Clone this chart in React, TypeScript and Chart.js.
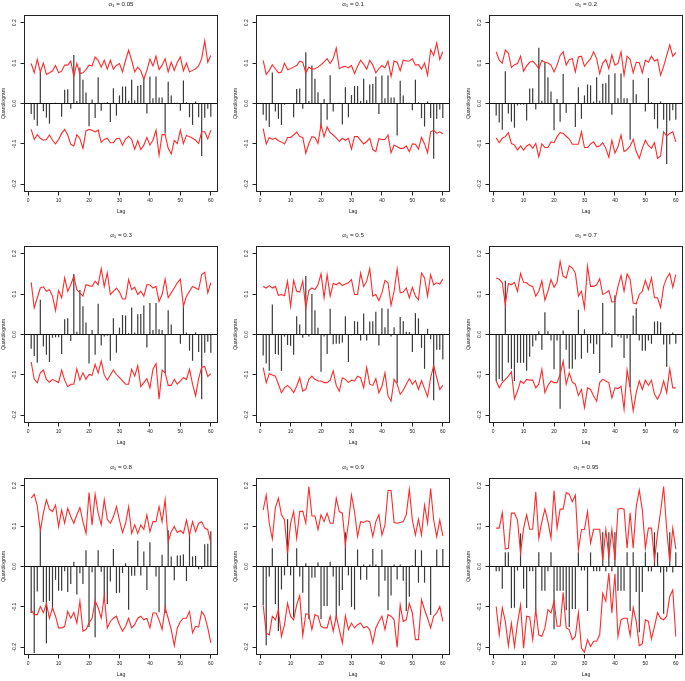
import React, { useEffect, useRef } from "react";
import { Chart, registerables } from "chart.js";

Chart.register(...registerables);

// ---------- categories / ticks ----------
const LAGS = [
  1, 2, 3, 4, 5, 6, 7, 8, 9, 10, 11, 12, 13, 14, 15, 16, 17, 18, 19, 20,
  21, 22, 23, 24, 25, 26, 27, 28, 29, 30, 31, 32, 33, 34, 35, 36, 37, 38, 39, 40,
  41, 42, 43, 44, 45, 46, 47, 48, 49, 50, 51, 52, 53, 54, 55, 56, 57, 58, 59, 60,
];
const X_TICKS = [0, 10, 20, 30, 40, 50, 60];
const Y_TICKS = [-0.2, -0.1, 0, 0.1, 0.2];
const ALPHAS = ["0.05", "0.1", "0.2", "0.3", "0.5", "0.7", "0.8", "0.9", "0.95"];

// ---------- alpha = 0.05 ----------
const Q005 = [-0.026,-0.04,-0.055,0.078,-0.019,-0.035,-0.05,0,0.002,0,-0.033,0.034,0.035,-0.013,0.12,0.006,0.089,0.059,0.027,-0.056,0.01,-0.036,0.065,-0.018,0.002,0.003,-0.046,0.038,-0.03,0.02,0.042,0.042,0.007,0.059,0.008,0.044,0.046,0.064,-0.025,0.067,0.013,0.067,0.015,0.015,-0.074,0.054,0.02,0.002,0.002,-0.018,0.057,0.003,-0.034,-0.053,0.005,-0.034,-0.13,-0.035,-0.013,-0.033];
const U005 = [0.099,0.076,0.109,0.078,0.1,0.072,0.076,0.081,0.094,0.076,0.08,0.095,0.095,0.105,0.067,0.099,0.074,0.076,0.084,0.095,0.093,0.115,0.107,0.09,0.107,0.085,0.107,0.085,0.094,0.099,0.078,0.107,0.132,0.107,0.078,0.09,0.081,0.06,0.082,0.11,0.093,0.117,0.084,0.095,0.111,0.078,0.102,0.082,0.102,0.115,0.081,0.1,0.078,0.082,0.086,0.093,0.111,0.155,0.102,0.119];
const L005 = [-0.064,-0.089,-0.077,-0.086,-0.091,-0.089,-0.078,-0.091,-0.1,-0.089,-0.074,-0.064,-0.078,-0.101,-0.105,-0.077,-0.087,-0.111,-0.068,-0.064,-0.066,-0.07,-0.066,-0.096,-0.089,-0.086,-0.097,-0.097,-0.087,-0.086,-0.103,-0.088,-0.081,-0.089,-0.113,-0.092,-0.114,-0.103,-0.084,-0.103,-0.091,-0.066,-0.128,-0.077,-0.077,-0.111,-0.125,-0.091,-0.099,-0.066,-0.099,-0.079,-0.082,-0.086,-0.091,-0.099,-0.07,-0.07,-0.088,-0.066];

// ---------- alpha = 0.1 ----------
const Q010 = [-0.028,-0.042,-0.058,0.077,-0.02,-0.038,-0.053,-0.003,0,0,-0.034,0.036,0.037,-0.013,0.127,0.006,0.094,0.061,0.028,-0.06,0.011,-0.04,0.07,-0.02,0,0.002,-0.052,0.04,-0.034,0.021,0.043,0.043,0.006,0.061,0.008,0.047,0.048,0.067,-0.026,0.069,0.013,0.069,0.015,0.015,-0.079,0.056,0.02,0.002,0.002,-0.017,0.059,0.003,-0.036,-0.057,0.005,-0.036,-0.137,-0.038,-0.015,-0.036];
const U010 = [0.107,0.072,0.082,0.096,0.086,0.076,0.078,0.1,0.084,0.086,0.09,0.094,0.105,0.102,0.076,0.09,0.085,0.086,0.09,0.096,0.103,0.111,0.099,0.111,0.137,0.086,0.09,0.092,0.088,0.094,0.074,0.092,0.107,0.097,0.085,0.107,0.095,0.076,0.086,0.094,0.088,0.105,0.067,0.105,0.102,0.081,0.107,0.105,0.105,0.111,0.095,0.096,0.085,0.1,0.07,0.133,0.119,0.15,0.109,0.128];
const L010 = [-0.062,-0.1,-0.084,-0.089,-0.086,-0.092,-0.095,-0.1,-0.084,-0.084,-0.078,-0.071,-0.082,-0.084,-0.123,-0.099,-0.082,-0.084,-0.099,-0.053,-0.082,-0.058,-0.072,-0.078,-0.085,-0.094,-0.086,-0.091,-0.086,-0.113,-0.082,-0.082,-0.091,-0.1,-0.094,-0.086,-0.114,-0.119,-0.087,-0.089,-0.089,-0.078,-0.122,-0.103,-0.107,-0.111,-0.111,-0.105,-0.119,-0.1,-0.101,-0.113,-0.084,-0.1,-0.122,-0.07,-0.066,-0.074,-0.07,-0.075];

// ---------- alpha = 0.2 ----------
const Q020 = [-0.03,-0.047,-0.065,0.08,-0.025,-0.045,-0.06,-0.005,-0.003,-0.003,-0.042,0.037,0.038,-0.015,0.138,0.007,0.102,0.065,0.03,-0.066,0.011,-0.045,0.073,-0.023,-0.002,0,-0.058,0.04,-0.038,0.02,0.047,0.045,0.005,0.065,0.007,0.049,0.05,0.071,-0.028,0.075,0.013,0.074,0.013,0.013,-0.09,0.059,0.023,0.002,0,-0.02,0.063,0.003,-0.039,-0.062,0.005,-0.04,-0.15,-0.042,-0.017,-0.04];
const U020 = [0.128,0.107,0.1,0.132,0.125,0.089,0.096,0.099,0.117,0.08,0.093,0.102,0.105,0.097,0.086,0.107,0.102,0.1,0.095,0.078,0.095,0.119,0.128,0.095,0.109,0.111,0.078,0.115,0.117,0.092,0.102,0.111,0.128,0.111,0.074,0.1,0.109,0.086,0.12,0.095,0.099,0.128,0.07,0.117,0.109,0.076,0.102,0.101,0.076,0.107,0.102,0.117,0.105,0.109,0.07,0.092,0.119,0.145,0.117,0.126];
const L020 = [-0.085,-0.097,-0.086,-0.082,-0.072,-0.099,-0.103,-0.115,-0.105,-0.115,-0.105,-0.101,-0.111,-0.099,-0.132,-0.1,-0.109,-0.109,-0.095,-0.097,-0.082,-0.072,-0.074,-0.081,-0.088,-0.101,-0.101,-0.101,-0.07,-0.109,-0.109,-0.1,-0.095,-0.107,-0.105,-0.097,-0.111,-0.133,-0.091,-0.123,-0.107,-0.078,-0.119,-0.114,-0.105,-0.089,-0.119,-0.136,-0.111,-0.091,-0.104,-0.111,-0.097,-0.136,-0.13,-0.07,-0.081,-0.074,-0.07,-0.095];

// ---------- alpha = 0.3 ----------
const Q030 = [-0.035,-0.053,-0.07,0.086,-0.03,-0.05,-0.068,-0.008,-0.007,-0.007,-0.048,0.038,0.04,-0.016,0.15,0.007,0.11,0.07,0.03,-0.072,0.011,-0.05,0.076,-0.027,-0.005,-0.003,-0.065,0.04,-0.045,0.017,0.048,0.047,0.003,0.067,0.005,0.05,0.051,0.072,-0.032,0.078,0.011,0.078,0.013,0.011,-0.095,0.06,0.025,0,0,-0.023,0.07,0.005,-0.04,-0.065,0.005,-0.043,-0.16,-0.045,-0.018,-0.045];
const U030 = [0.129,0.066,0.091,0.115,0.118,0.107,0.111,0.095,0.059,0.109,0.091,0.14,0.107,0.123,0.144,0.111,0.103,0.095,0.123,0.121,0.119,0.132,0.123,0.163,0.119,0.152,0.099,0.107,0.115,0.105,0.088,0.088,0.136,0.111,0.117,0.099,0.107,0.095,0.123,0.123,0.115,0.119,0.082,0.099,0.137,0.091,0.103,0.115,0.128,0.137,0.07,0.095,0.107,0.119,0.115,0.111,0.148,0.154,0.103,0.128];
const L030 = [-0.068,-0.111,-0.119,-0.095,-0.088,-0.111,-0.118,-0.111,-0.115,-0.119,-0.088,-0.113,-0.129,-0.123,-0.123,-0.085,-0.113,-0.095,-0.111,-0.099,-0.101,-0.074,-0.095,-0.066,-0.1,-0.113,-0.1,-0.088,-0.099,-0.107,-0.115,-0.123,-0.123,-0.086,-0.103,-0.077,-0.129,-0.119,-0.109,-0.132,-0.086,-0.072,-0.16,-0.088,-0.095,-0.126,-0.126,-0.111,-0.123,-0.115,-0.107,-0.111,-0.086,-0.123,-0.152,-0.109,-0.081,-0.079,-0.104,-0.097];

// ---------- alpha = 0.5 ----------
const Q050 = [-0.052,-0.072,-0.09,0.074,-0.048,-0.05,-0.09,-0.005,-0.026,-0.028,-0.05,0.045,0.025,-0.008,0.145,-0.005,0.1,0.06,0.017,-0.092,-0.005,-0.048,0.064,-0.024,-0.023,-0.023,-0.02,0.045,-0.068,-0.002,0.033,0.032,-0.015,0.052,-0.015,0.032,0.033,0.056,-0.027,0.065,0.018,0.064,-0.005,0.018,-0.12,0.043,0.033,0.007,0.006,-0.043,0.053,0.04,-0.033,-0.085,0.014,-0.012,-0.163,-0.038,-0.038,-0.062];
const U050 = [0.119,0.115,0.121,0.115,0.119,0.097,0.099,0.096,0.132,0.07,0.134,0.107,0.105,0.132,0.066,0.109,0.115,0.111,0.123,0.15,0.091,0.148,0.095,0.126,0.123,0.128,0.121,0.125,0.128,0.136,0.099,0.099,0.152,0.119,0.132,0.163,0.095,0.099,0.084,0.103,0.134,0.128,0.072,0.107,0.162,0.103,0.105,0.115,0.091,0.117,0.095,0.086,0.152,0.14,0.095,0.148,0.123,0.128,0.125,0.137];
const L050 = [-0.082,-0.119,-0.097,-0.1,-0.103,-0.123,-0.144,-0.132,-0.126,-0.133,-0.144,-0.128,-0.107,-0.14,-0.136,-0.111,-0.103,-0.111,-0.115,-0.115,-0.119,-0.119,-0.113,-0.09,-0.126,-0.14,-0.107,-0.111,-0.119,-0.113,-0.115,-0.103,-0.107,-0.132,-0.082,-0.123,-0.126,-0.109,-0.144,-0.128,-0.095,-0.152,-0.165,-0.111,-0.123,-0.148,-0.138,-0.123,-0.109,-0.123,-0.114,-0.136,-0.114,-0.134,-0.154,-0.107,-0.077,-0.107,-0.136,-0.126];

// ---------- alpha = 0.7 ----------
const Q070 = [-0.115,-0.11,-0.115,0.133,-0.07,-0.085,-0.115,-0.07,-0.07,-0.07,-0.09,-0.055,-0.03,-0.015,0.008,-0.038,0.055,0.008,-0.015,-0.086,-0.015,-0.184,0.01,-0.038,-0.085,-0.085,-0.062,0.061,-0.06,0.013,-0.045,-0.022,-0.048,-0.024,-0.095,0.078,0.005,0.003,-0.032,0.097,-0.005,-0.008,-0.058,-0.01,-0.13,0.047,0.065,-0.015,-0.04,-0.04,-0.015,-0.023,0.032,0.033,0.03,-0.025,-0.08,-0.024,0.005,-0.023];
const U070 = [0.14,0.137,0.128,0.074,0.126,0.123,0.129,0.107,0.151,0.129,0.128,0.121,0.119,0.095,0.107,0.133,0.085,0.107,0.136,0.117,0.129,0.181,0.144,0.14,0.17,0.165,0.152,0.095,0.107,0.066,0.169,0.119,0.119,0.123,0.138,0.099,0.103,0.109,0.08,0.082,0.119,0.146,0.107,0.15,0.136,0.078,0.076,0.099,0.107,0.134,0.111,0.14,0.091,0.091,0.067,0.119,0.14,0.151,0.117,0.148];
const L070 = [-0.115,-0.132,-0.119,-0.111,-0.103,-0.092,-0.159,-0.14,-0.115,-0.121,-0.111,-0.113,-0.113,-0.132,-0.123,-0.086,-0.144,-0.126,-0.115,-0.119,-0.119,-0.099,-0.066,-0.123,-0.095,-0.118,-0.123,-0.151,-0.136,-0.181,-0.132,-0.136,-0.152,-0.165,-0.119,-0.111,-0.115,-0.119,-0.157,-0.132,-0.134,-0.128,-0.185,-0.088,-0.132,-0.189,-0.144,-0.115,-0.136,-0.113,-0.126,-0.113,-0.148,-0.16,-0.144,-0.115,-0.144,-0.085,-0.132,-0.132];

// ---------- alpha = 0.8 ----------
const Q080 = [-0.115,-0.214,-0.062,0.09,-0.088,-0.19,-0.085,-0.108,-0.033,-0.06,-0.06,-0.012,-0.063,-0.043,0.012,-0.069,-0.017,-0.043,0.04,-0.15,-0.014,-0.175,0.04,-0.013,-0.085,-0.093,-0.037,0.043,-0.066,-0.065,-0.016,0.008,-0.107,-0.023,-0.023,0.064,-0.022,0.037,-0.058,0.06,0,-0.025,-0.113,0.029,-0.115,0.09,0.025,-0.034,0.027,0.027,0.03,-0.036,0.085,0.025,0.026,-0.007,-0.006,0.055,0.056,0.087];
const U080 = [0.169,0.179,0.15,0.089,0.132,0.165,0.142,0.136,0.152,0.099,0.14,0.107,0.144,0.123,0.107,0.128,0.146,0.111,0.082,0.183,0.103,0.179,0.132,0.103,0.165,0.117,0.107,0.123,0.148,0.115,0.084,0.107,0.148,0.082,0.103,0.082,0.103,0.092,0.128,0.086,0.111,0.111,0.148,0.111,0.165,0.062,0.086,0.099,0.084,0.089,0.082,0.115,0.078,0.111,0.086,0.107,0.111,0.095,0.091,0.058];
const L080 = [-0.107,-0.119,-0.119,-0.099,-0.114,-0.092,-0.128,-0.102,-0.123,-0.152,-0.152,-0.148,-0.111,-0.128,-0.114,-0.14,-0.086,-0.16,-0.156,-0.14,-0.128,-0.085,-0.102,-0.128,-0.074,-0.152,-0.136,-0.128,-0.123,-0.144,-0.16,-0.148,-0.128,-0.152,-0.144,-0.128,-0.123,-0.132,-0.128,-0.152,-0.115,-0.115,-0.132,-0.156,-0.102,-0.128,-0.156,-0.196,-0.152,-0.136,-0.128,-0.128,-0.111,-0.164,-0.148,-0.15,-0.111,-0.123,-0.152,-0.189];

// ---------- alpha = 0.9 ----------
const Q090 = [-0.095,-0.195,-0.025,0.045,-0.093,-0.16,-0.057,-0.022,0.117,-0.022,-0.125,0.045,-0.025,-0.065,0.008,-0.13,-0.028,-0.027,0.01,-0.13,-0.098,-0.098,0.012,-0.025,-0.13,-0.097,-0.058,0.085,-0.022,-0.1,-0.107,0.042,-0.033,0.005,-0.033,0.005,0.043,0.005,-0.074,0.042,-0.035,-0.108,-0.072,0.005,-0.032,0.005,-0.035,-0.11,-0.075,0.003,0.042,-0.04,0.04,-0.04,0,-0.12,0,0.042,0.002,0.043];
const U090 = [0.14,0.177,0.107,0.068,0.146,0.169,0.128,0.115,0.033,0.107,0.136,0.07,0.136,0.137,0.107,0.198,0.125,0.125,0.091,0.128,0.111,0.132,0.107,0.107,0.169,0.136,0.132,0.054,0.107,0.177,0.136,0.074,0.111,0.109,0.113,0.111,0.074,0.111,0.128,0.078,0.103,0.188,0.188,0.109,0.107,0.109,0.111,0.128,0.191,0.115,0.078,0.117,0.078,0.152,0.107,0.193,0.115,0.074,0.115,0.076];
const L090 = [-0.096,-0.165,-0.169,-0.123,-0.132,-0.107,-0.173,-0.144,-0.091,-0.123,-0.132,-0.095,-0.072,-0.171,-0.117,-0.119,-0.156,-0.119,-0.123,-0.148,-0.152,-0.152,-0.123,-0.16,-0.123,-0.156,-0.189,-0.122,-0.156,-0.14,-0.152,-0.144,-0.14,-0.152,-0.148,-0.156,-0.189,-0.152,-0.136,-0.123,-0.156,-0.119,-0.123,-0.132,-0.2,-0.095,-0.136,-0.132,-0.091,-0.115,-0.181,-0.181,-0.082,-0.107,-0.128,-0.152,-0.123,-0.115,-0.099,-0.136];

// ---------- alpha = 0.95 ----------
const Q095 = [-0.012,-0.012,-0.055,0.035,0.035,-0.103,-0.102,-0.01,0.082,-0.055,-0.103,-0.012,-0.012,-0.11,0.035,-0.06,-0.06,-0.012,0.035,-0.155,-0.06,-0.06,-0.06,-0.108,-0.15,-0.105,-0.105,0.035,-0.01,-0.01,-0.11,0.035,-0.012,-0.012,-0.012,0.085,-0.012,0.085,-0.012,0.085,-0.06,-0.06,-0.06,0.035,-0.11,0.035,-0.063,-0.163,-0.063,0.035,-0.012,-0.012,0.085,0.035,-0.015,-0.117,-0.013,0.085,-0.015,0.035];
const U095 = [0.095,0.095,0.133,0.043,0.045,0.132,0.132,0.115,0.033,0.095,0.128,0.092,0.092,0.185,0.07,0.111,0.142,0.111,0.07,0.188,0.095,0.142,0.142,0.183,0.179,0.16,0.177,0.041,0.091,0.092,0.136,0.058,0.092,0.092,0.092,0.016,0.091,0.025,0.091,0.016,0.142,0.144,0.142,0.045,0.133,0.045,0.148,0.189,0.14,0.045,0.095,0.095,0.016,0.082,0.136,0.198,0.092,0.012,0.095,0.043];
const L095 = [-0.099,-0.169,-0.102,-0.136,-0.196,-0.14,-0.198,-0.14,-0.095,-0.202,-0.123,-0.125,-0.181,-0.107,-0.169,-0.173,-0.152,-0.107,-0.115,-0.086,-0.148,-0.148,-0.064,-0.152,-0.156,-0.181,-0.173,-0.114,-0.202,-0.212,-0.181,-0.198,-0.185,-0.185,-0.169,-0.066,-0.086,-0.016,-0.115,-0.018,-0.173,-0.132,-0.128,-0.128,-0.171,-0.102,-0.136,-0.196,-0.191,-0.132,-0.136,-0.179,-0.148,-0.114,-0.128,-0.132,-0.123,-0.074,-0.058,-0.173];

const QUANTILOGRAMS = [Q005, Q010, Q020, Q030, Q050, Q070, Q080, Q090, Q095];
const UPPER_BOUNDS = [U005, U010, U020, U030, U050, U070, U080, U090, U095];
const LOWER_BOUNDS = [L005, L010, L020, L030, L050, L070, L080, L090, L095];

// ---------- layout (styling, not data) ----------
const CANVAS_W = 220;
const CANVAS_H = 215;
const COL_LEFT = [0, 232, 465];
const ROW_TOP = [0, 231, 463];
const FONT = '"Liberation Sans", Arial, Helvetica, sans-serif';
const TEXT = "#222";

const framePlugin = {
  id: "rframe",
  afterDraw(chart: any, _args: any, opts: any) {
    const { ctx, chartArea: a } = chart;
    ctx.save();
    ctx.strokeStyle = "#222";
    ctx.lineWidth = 1;
    const l = Math.round(a.left) + 0.5;
    const t = Math.round(a.top) + 0.5;
    const r = Math.round(a.right) - 0.5;
    const b = Math.round(a.bottom) - 0.5;
    ctx.strokeRect(l, t, r - l, b - t);

    // title: alpha with subscript
    const big = 6.2;
    const small = 4.4;
    const p1 = "\u03B1";
    const p2 = "1";
    const p3 = " = " + opts.alpha;
    ctx.fillStyle = TEXT;
    ctx.textBaseline = "middle";
    ctx.textAlign = "left";
    ctx.font = `${big}px ${FONT}`;
    const w1 = ctx.measureText(p1).width;
    const w3 = ctx.measureText(p3).width;
    ctx.font = `${small}px ${FONT}`;
    const w2 = ctx.measureText(p2).width;
    const total = w1 + w2 + w3;
    const cx = (a.left + a.right) / 2;
    const cy = a.top - 10.5;
    let x = cx - total / 2;
    ctx.font = `${big}px ${FONT}`;
    ctx.fillText(p1, x, cy);
    x += w1;
    ctx.font = `${small}px ${FONT}`;
    ctx.fillText(p2, x, cy + 1.6);
    x += w2;
    ctx.font = `${big}px ${FONT}`;
    ctx.fillText(p3, x, cy);
    ctx.restore();
  },
};

function Panel({ index }: { index: number }) {
  const ref = useRef<HTMLCanvasElement | null>(null);
  useEffect(() => {
    const q = QUANTILOGRAMS[index];
    const up = UPPER_BOUNDS[index];
    const lo = LOWER_BOUNDS[index];
    const chart = new Chart(ref.current as HTMLCanvasElement, {
      type: "bar",
      data: {
        datasets: [
          {
            type: "line",
            data: LAGS.map((x, i) => ({ x, y: up[i] })),
            borderColor: "#ff2b2b",
            borderWidth: 1.1,
            pointRadius: 0,
            tension: 0,
            order: 0,
          } as any,
          {
            type: "line",
            data: LAGS.map((x, i) => ({ x, y: lo[i] })),
            borderColor: "#ff2b2b",
            borderWidth: 1.1,
            pointRadius: 0,
            tension: 0,
            order: 0,
          } as any,
          {
            type: "bar",
            data: LAGS.map((x, i) => ({ x, y: q[i] })),
            backgroundColor: "#3a3a3a",
            borderWidth: 0,
            barThickness: 1.2,
            inflateAmount: 0,
            order: 1,
          } as any,
        ],
      },
      options: {
        responsive: false,
        animation: false,
        layout: { padding: { top: 15, left: 0, right: 2, bottom: 0 } },
        plugins: {
          legend: { display: false },
          tooltip: { enabled: false },
          title: { display: false },
          rframe: { alpha: ALPHAS[index] },
        } as any,
        scales: {
          x: {
            type: "linear",
            min: -1.36,
            max: 62.36,
            offset: false,
            afterBuildTicks: (s: any) => {
              s.ticks = X_TICKS.map((v) => ({ value: v }));
            },
            afterFit: (s: any) => {
              s.height = 23;
            },
            grid: {
              offset: false,
              drawOnChartArea: false,
              drawTicks: true,
              tickLength: 3.5,
              tickColor: "#222",
              lineWidth: 1,
            },
            border: { display: false },
            ticks: {
              font: { size: 5, family: FONT },
              color: TEXT,
              padding: 2,
              maxRotation: 0,
              minRotation: 0,
              autoSkip: false,
              callback: (v: any) => String(v),
            },
            title: {
              display: true,
              text: "Lag",
              font: { size: 5.2, family: FONT },
              color: TEXT,
              padding: 0,
            },
          },
          y: {
            type: "linear",
            min: -0.219,
            max: 0.219,
            afterBuildTicks: (s: any) => {
              s.ticks = Y_TICKS.map((v) => ({ value: v }));
            },
            afterFit: (s: any) => {
              s.width = 24;
            },
            grid: {
              color: (c: any) => (c.tick && c.tick.value === 0 ? "#111" : "rgba(0,0,0,0)"),
              drawOnChartArea: true,
              drawTicks: true,
              tickLength: 3.5,
              tickColor: "#222",
              lineWidth: 1,
            },
            border: { display: false },
            ticks: {
              font: { size: 5, family: FONT },
              color: TEXT,
              padding: 1.2,
              minRotation: 90,
              maxRotation: 90,
              crossAlign: "center",
              autoSkip: false,
              callback: (v: any) => (v === 0 ? "0.0" : Number(v).toFixed(1)),
            },
            title: {
              display: true,
              text: "Quantilogram",
              font: { size: 5.2, family: FONT },
              color: TEXT,
              padding: 0,
            },
          },
        },
      } as any,
      plugins: [framePlugin],
    });
    return () => chart.destroy();
  }, [index]);

  const col = index % 3;
  const row = Math.floor(index / 3);
  return (
    <canvas
      ref={ref}
      width={CANVAS_W}
      height={CANVAS_H}
      style={{
        position: "absolute",
        left: COL_LEFT[col],
        top: ROW_TOP[row],
        width: CANVAS_W,
        height: CANVAS_H,
      }}
    />
  );
}

export default function App() {
  return (
    <div
      style={{
        position: "fixed",
        left: 0,
        top: 0,
        width: 685,
        height: 681,
        overflow: "hidden",
        background: "#fff",
      }}
    >
      {ALPHAS.map((_, i) => (
        <Panel key={i} index={i} />
      ))}
    </div>
  );
}
